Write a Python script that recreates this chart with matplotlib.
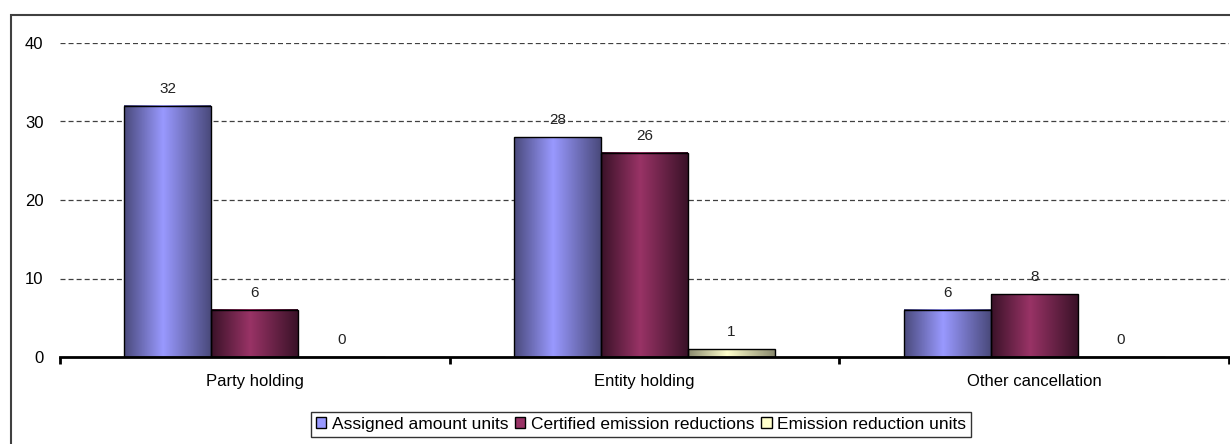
"""Units by holding type: grouped bar chart with shaded bars."""
import numpy as np
import matplotlib
matplotlib.use("Agg")
import matplotlib.pyplot as plt
from matplotlib.colors import LinearSegmentedColormap
from matplotlib.patches import Rectangle

categories = ["Party holding", "Entity holding", "Other cancellation"]
series = ["Assigned amount units", "Certified emission reductions",
          "Emission reduction units"]
aau = [32, 28, 6]
cer = [6, 26, 8]
eru = [0, 1, 0]
yticks = [0, 10, 20, 30, 40]

light = ["#9999ff", "#993366", "#ffffcc"]
dark = ["#4a4a7c", "#3a1228", "#8a8a6e"]

plt.rcParams["font.family"] = ["Liberation Sans", "DejaVu Sans"]
plt.rcParams["lines.scale_dashes"] = False

fig = plt.figure(figsize=(12.3, 4.44), dpi=100)
ax = fig.add_axes([60 / 1230, 1 - 357 / 444, 1169 / 1230, 314 / 444])

# outer frame (right and bottom edges fall outside the picture)
top = 1 - 15 / 444
fig.patches.append(Rectangle((11 / 1230, -0.2), 1.2, top + 0.2,
                             transform=fig.transFigure, fill=False,
                             ec="#404040", lw=1.5, zorder=0))

x = np.arange(len(categories))
w = 0.223
grad = np.linspace(0, 1, 200).reshape(1, -1)
for k, vals in enumerate([aau, cer, eru]):
    cmap = LinearSegmentedColormap.from_list(
        f"g{k}", [(0, dark[k]), (0.45, light[k]), (1, dark[k])])
    for xi, v in zip(x, vals):
        x0 = xi + (k - 1.5) * w
        if v > 0:
            ax.imshow(grad, extent=(x0, x0 + w, 0, v), aspect="auto",
                      cmap=cmap, vmin=0, vmax=1, zorder=2)
        ax.bar(x0, v, width=w, align="edge", facecolor="none",
               edgecolor="black", lw=1, zorder=3)
        ax.text(x0 + w / 2, v + 1.3, str(v), ha="center", va="bottom",
                fontsize=11, color="#222222", zorder=4)

ax.set_xlim(-0.5, 2.5)
ax.set_ylim(0, 40)
ax.set_yticks(yticks)
for y in yticks[1:]:
    ax.axhline(y, color="#404040", lw=0.9, ls=(0, (3.6, 2.2)), zorder=1)

for s in ["top", "right", "left"]:
    ax.spines[s].set_visible(False)
ax.spines["bottom"].set_linewidth(2)
ax.spines["bottom"].set_zorder(5)

ax.set_xticks(x)
ax.set_xticklabels(categories, fontsize=12)
ax.tick_params(axis="x", which="major", length=0, pad=12)
ax.set_xticks([-0.5, 0.5, 1.5, 2.5], minor=True)
ax.tick_params(axis="x", which="minor", length=5, width=2, direction="out")
ax.tick_params(axis="y", length=0, pad=12, labelsize=12)

handles = [Rectangle((0, 0), 1, 1, fc=c, ec="black", lw=1) for c in light]
leg = fig.legend(handles, series, loc="center", bbox_to_anchor=(0.521, 0.044),
                 ncol=3, fontsize=12.5, frameon=True, fancybox=False,
                 edgecolor="black", handlelength=0.6, handleheight=0.6,
                 handletextpad=0.3, columnspacing=0.4, borderpad=0.3,
                 borderaxespad=0)
leg.get_frame().set_linewidth(1)

fig.savefig("out.png", dpi=100)
